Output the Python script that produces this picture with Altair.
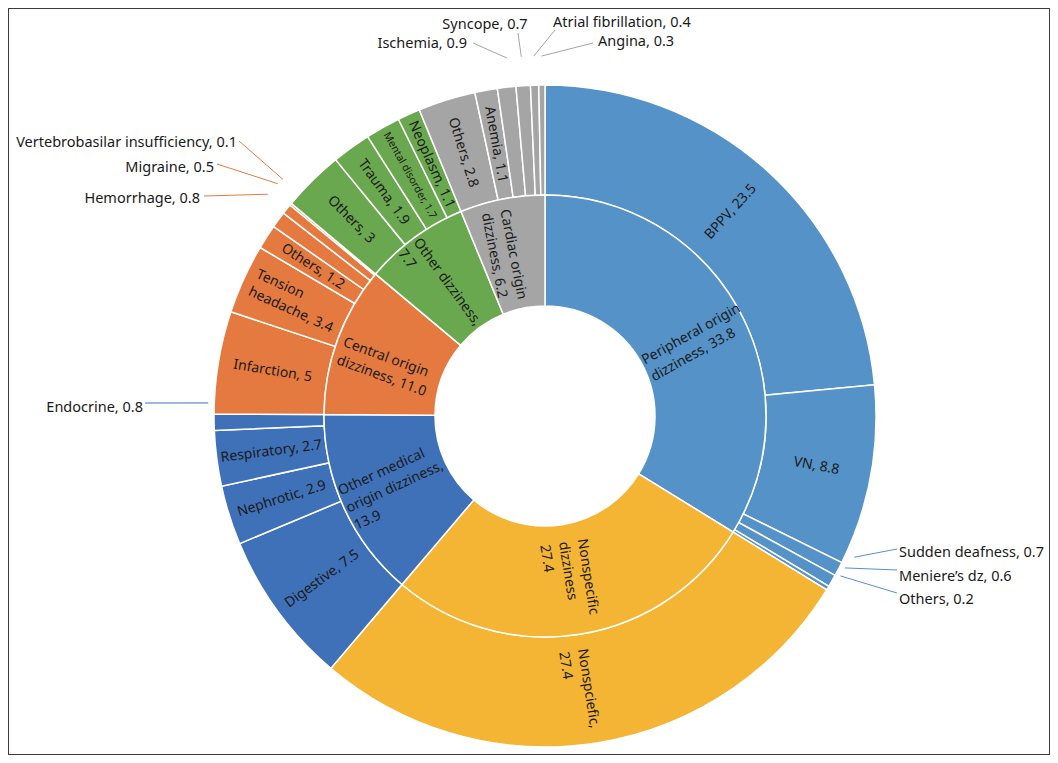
import math
import altair as alt
import pandas as pd

# ---------------- data ----------------
groups = ["Peripheral origin dizziness", "Nonspecific dizziness",
          "Other medical origin dizziness", "Central origin dizziness",
          "Other dizziness", "Cardiac origin dizziness"]
group_values = [33.8, 27.4, 13.9, 11.0, 7.7, 6.2]
group_labels = ["Peripheral origin\ndizziness, 33.8", "Nonspecific\ndizziness\n27.4",
                "Other medical\norigin dizziness,\n13.9", "Central origin\ndizziness, 11.0",
                "Other dizziness,\n7.7", "Cardiac origin\ndizziness, 6.2"]

sub_groups = (["Peripheral origin dizziness"] * 5 + ["Nonspecific dizziness"]
              + ["Other medical origin dizziness"] * 4 + ["Central origin dizziness"] * 6
              + ["Other dizziness"] * 4 + ["Cardiac origin dizziness"] * 6)
sub_names = ["BPPV", "VN", "Sudden deafness", "Meniere\u2019s dz", "Others",
             "Nonspciefic",
             "Digestive", "Nephrotic", "Respiratory", "Endocrine",
             "Infarction", "Tension headache", "Others", "Hemorrhage", "Migraine",
             "Vertebrobasilar insufficiency",
             "Others", "Trauma", "Mental disorder", "Neoplasm",
             "Others", "Anemia", "Ischemia", "Syncope", "Atrial fibrillation", "Angina"]
sub_values = [23.5, 8.8, 0.7, 0.6, 0.2,
              27.4,
              7.5, 2.9, 2.7, 0.8,
              5, 3.4, 1.2, 0.8, 0.5, 0.1,
              3, 1.9, 1.7, 1.1,
              2.8, 1.1, 0.9, 0.7, 0.4, 0.3]
sub_labels = ["BPPV, 23.5", "VN, 8.8", "Sudden deafness, 0.7", "Meniere\u2019s dz, 0.6", "Others, 0.2",
              "Nonspciefic,\n27.4",
              "Digestive, 7.5", "Nephrotic, 2.9", "Respiratory, 2.7", "Endocrine, 0.8",
              "Infarction, 5", "Tension\nheadache, 3.4", "Others, 1.2", "Hemorrhage, 0.8",
              "Migraine, 0.5", "Vertebrobasilar insufficiency, 0.1",
              "Others, 3", "Trauma, 1.9", "Mental disorder, 1.7", "Neoplasm, 1.1",
              "Others, 2.8", "Anemia, 1.1", "Ischemia, 0.9", "Syncope, 0.7",
              "Atrial fibrillation, 0.4", "Angina, 0.3"]

# ---------------- styles / layout ----------------
group_colors = ["#5592C8", "#F4B434", "#3F71B8", "#E57A40", "#6AA84F", "#A5A5A5"]
line_colors = ["#4A78C0", "#F4B434", "#4A78C0", "#E07B45", "#6AA84F", "#A8A8A8"]
FONT = "Noto Sans"
TXT = "#1a1a1a"
RING_FS = 14
LINE_H = 19
cx, cy = 537, 408          # centre of the sunburst inside the view
R_HOLE, R_MID, R_OUT = 110, 221, 331

# callouts for the thin outer slices: index -> (angle nudge deg, start radius,
# line end offset, text offset, text align)
callouts = {
    2: (-3.0, 340, (352, 133), (354, 137), "left"),
    3: (-3.0, 336, (352, 154), (354, 161), "left"),
    4: (-2.9, 336, (352, 177), (354, 184), "left"),
    9: (3.3, 337, (-400, -13), (-402, -8), "right"),
    13: (2.3, 355, (-341, -220), (-345, -217), "right"),
    14: (2.3, 354, (-328, -252), (-331, -248), "right"),
    15: (2.3, 353, (-306, -275), (-308, -273), "right"),
    22: (0.6, 360, (-72, -373), (-78, -372), "right"),
    23: (0.0, 360, (-27, -383), (-60, -391), "center"),
    24: (0.0, 360, (10, -386), (8, -393), "left"),
    25: (0.0, 360, (48, -373), (53, -374), "left"),
}
small_font = {18: 10.5}
# extra perpendicular shift (text frame, px) of some multi-line labels
label_dy = {"Nonspecific\ndizziness\n27.4": -17,
            "Other medical\norigin dizziness,\n13.9": -17,
            "Tension\nheadache, 3.4": -10}

# ---------------- tables ----------------
inner = pd.DataFrame({"group": groups, "value": group_values, "label": group_labels})
inner["end"] = inner["value"].cumsum()
inner["start"] = inner["end"] - inner["value"]
inner["mid"] = (inner["start"] + inner["end"]) / 2

outer = pd.DataFrame({"group": sub_groups, "name": sub_names, "value": sub_values,
                      "label": sub_labels})
outer["end"] = outer["value"].cumsum()
outer["start"] = outer["end"] - outer["value"]
outer["mid"] = (outer["start"] + outer["end"]) / 2


def text_angle(mid):
    phi = mid * 3.6
    a = phi - 90 if phi <= 180 else phi - 270
    return a % 360


def est_width(s, fs):
    w = 0.0
    for ch in s:
        if ch in "ijl.,' ":
            w += 0.27
        elif ch in "frtI":
            w += 0.38
        elif ch in "mwMW":
            w += 0.88
        elif ch.isdigit():
            w += 0.57
        elif ch.isupper():
            w += 0.64
        else:
            w += 0.56
    return w * fs


lab_rows = []
for _, r in inner.iterrows():
    lab_rows.append({"label": r["label"], "mid": r["mid"], "r": (R_HOLE + R_MID) / 2,
                     "ang": text_angle(r["mid"]), "fs": RING_FS})
for i, r in outer.iterrows():
    if i in callouts:
        continue
    lab_rows.append({"label": r["label"], "mid": r["mid"], "r": (R_MID + R_OUT) / 2,
                     "ang": text_angle(r["mid"]), "fs": small_font.get(i, RING_FS)})
labels = pd.DataFrame(lab_rows)
labels["multi"] = labels["label"].str.contains("\n")

co_rows = []
for i, (nudge, r0, (ex, ey), (tx, ty), al) in callouts.items():
    r = outer.loc[i]
    co_rows.append({"label": r["label"], "group": r["group"], "mid": r["mid"],
                    "nudge": nudge, "r0": r0,
                    "x2": cx + ex, "y2": cy + ey, "tx": cx + tx, "ty": cy + ty,
                    "align": al})
co = pd.DataFrame(co_rows)

# ---------------- chart ----------------
theta_scale = alt.Scale(domain=[0, 100], range=[0, 2 * math.pi])
color_scale = alt.Scale(domain=groups, range=group_colors)
line_scale = alt.Scale(domain=groups, range=line_colors)


def ring(df, r_in, r_out):
    return alt.Chart(df).mark_arc(radius=r_out, radius2=r_in, stroke="white",
                                  strokeWidth=1.5).encode(
        theta=alt.Theta("start:Q", scale=theta_scale, stack=False),
        theta2="end:Q",
        color=alt.Color("group:N", scale=color_scale, legend=None),
        x=alt.value(cx), y=alt.value(cy))


inner_ring = ring(inner, R_HOLE, R_MID)
outer_ring = ring(outer, R_MID, R_OUT)


def label_layer(df, align, dx=0, dy=0):
    return alt.Chart(df).mark_text(
        align=align, baseline="middle", lineBreak="\n", font=FONT, color=TXT,
        lineHeight=LINE_H, dx=dx, dy=dy).encode(
        theta=alt.Theta("mid:Q", scale=theta_scale, stack=False),
        radius=alt.Radius("r:Q", scale=None),
        angle=alt.Angle("ang:Q", scale=None),
        size=alt.Size("fs:Q", scale=None),
        text="label:N",
        x=alt.value(cx), y=alt.value(cy))


text_layers = [label_layer(labels[~labels["multi"]], "center")]
for _, row in labels[labels["multi"]].iterrows():
    w = max(est_width(line, row["fs"]) for line in row["label"].split("\n"))
    text_layers.append(label_layer(pd.DataFrame([row]), "left", dx=-round(w / 2, 1),
                                   dy=label_dy.get(row["label"], 0)))

leaders = alt.Chart(co).transform_calculate(
    x1=f"{cx} + datum.r0 * sin((datum.mid * 3.6 + datum.nudge) * PI / 180)",
    y1=f"{cy} - datum.r0 * cos((datum.mid * 3.6 + datum.nudge) * PI / 180)",
).mark_rule(strokeWidth=1).encode(
    x=alt.X("x1:Q", scale=None), y=alt.Y("y1:Q", scale=None),
    x2="x2:Q", y2="y2:Q",
    color=alt.Color("group:N", scale=line_scale, legend=None))

co_text = []
for al in ["left", "right", "center"]:
    co_text.append(alt.Chart(co).transform_filter(f"datum.align == '{al}'").mark_text(
        align=al, baseline="middle", font=FONT, fontSize=14.5, color=TXT).encode(
        x=alt.X("tx:Q", scale=None), y=alt.Y("ty:Q", scale=None), text="label:N"))

chart = alt.layer(outer_ring, inner_ring, *text_layers, leaders, *co_text).properties(
    width=1042, height=747, padding=0,
    autosize=alt.AutoSizeParams(type="none"),
).configure_view(stroke="#3c3c3c", strokeWidth=2)

chart.save("out.html", embed_options={"renderer": "svg", "actions": False})
